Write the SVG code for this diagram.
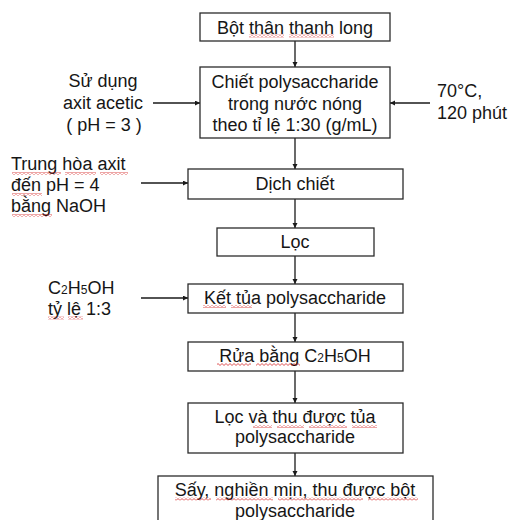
<svg xmlns="http://www.w3.org/2000/svg" width="509" height="520" viewBox="0 0 509 520">
  <style>
    .box { fill: #ffffff; stroke: #2b2b2b; stroke-width: 1.3; }
    .t { font-family: "Liberation Sans", Arial, sans-serif; font-size: 18px; fill: #161616; }
    .c { text-anchor: middle; }
    .sub { font-size: 12px; }
    .edge { stroke: #1a1a1a; stroke-width: 1.3; fill: none; marker-end: url(#head); }
    .sq { fill: url(#wave); }
  </style>
  <defs>
    <marker id="head" markerUnits="userSpaceOnUse" markerWidth="6" markerHeight="6" refX="5" refY="2.5" orient="auto">
      <path d="M0,0 L5,2.5 L0,5 z" fill="#1a1a1a"/>
    </marker>
    <!-- red spell-check wave -->
    <pattern id="wave" patternUnits="userSpaceOnUse" width="4" height="3">
      <path d="M-1,1.5 L0,2.5 L2,0.5 L4,2.5 L5,1.5" stroke="#d42020" stroke-width="0.8" fill="none"/>
    </pattern>
  </defs>

  <rect width="509" height="520" fill="#ffffff"/>

  <!-- connectors -->
  <g id="connectors">
    <line class="edge" x1="295" y1="41" x2="295" y2="67"/>
    <line class="edge" x1="295" y1="138" x2="295" y2="169"/>
    <line class="edge" x1="295" y1="199" x2="295" y2="228"/>
    <line class="edge" x1="295" y1="256" x2="295" y2="284"/>
    <line class="edge" x1="295" y1="313" x2="295" y2="342"/>
    <line class="edge" x1="295" y1="371" x2="295" y2="403"/>
    <line class="edge" x1="295" y1="453" x2="295" y2="476"/>
    <line class="edge" x1="153" y1="103" x2="200" y2="103"/>
    <line class="edge" x1="430" y1="103" x2="390" y2="103"/>
    <line class="edge" x1="141" y1="183" x2="188" y2="183"/>
    <line class="edge" x1="141" y1="298" x2="188" y2="298"/>
  </g>

  <!-- process steps -->
  <g id="n1">
    <rect class="box" x="200" y="13" width="190" height="28"/>
    <text class="t c" x="295" y="33.5">Bột thân thanh long</text>
    <rect class="sq" x="249" y="34.5" width="35" height="3"/>
    <rect class="sq" x="289" y="34.5" width="45" height="3"/>
  </g>
  <g id="n2">
    <rect class="box" x="200" y="67" width="190" height="71"/>
    <text class="t c" x="295" y="88">Chiết polysaccharide</text>
    <text class="t c" x="295" y="110">trong nước nóng</text>
    <text class="t c" x="295" y="131">theo tỉ lệ 1:30 (g/mL)</text>
  </g>
  <g id="n3">
    <rect class="box" x="188" y="169" width="215" height="30"/>
    <text class="t c" x="295" y="189.5">Dịch chiết</text>
  </g>
  <g id="n4">
    <rect class="box" x="217" y="228" width="157" height="28"/>
    <text class="t c" x="295" y="248">Lọc</text>
  </g>
  <g id="n5">
    <rect class="box" x="188" y="284" width="215" height="29"/>
    <text class="t c" x="295" y="304">Kết tủa polysaccharide</text>
    <rect class="sq" x="203" y="305" width="23" height="3"/>
    <rect class="sq" x="231" y="305" width="21" height="3"/>
  </g>
  <g id="n6">
    <rect class="box" x="188" y="342" width="215" height="29"/>
    <text class="t c" x="295" y="362">Rửa bằng <tspan>C</tspan><tspan class="sub">2</tspan><tspan>H</tspan><tspan class="sub">5</tspan><tspan>OH</tspan></text>
    <rect class="sq" x="217" y="363" width="34" height="3"/>
    <rect class="sq" x="256" y="363" width="44" height="3"/>
  </g>
  <g id="n7">
    <rect class="box" x="188" y="403" width="215" height="50"/>
    <text class="t c" x="295" y="423">Lọc và thu được tủa</text>
    <text class="t c" x="295" y="443">polysaccharide</text>
    <rect class="sq" x="253" y="425" width="19" height="3"/>
    <rect class="sq" x="277" y="425" width="27" height="3"/>
    <rect class="sq" x="309" y="425" width="38" height="3"/>
    <rect class="sq" x="352" y="425" width="25" height="3"/>
  </g>
  <g id="n8">
    <rect class="box" x="158" y="476" width="275" height="60"/>
    <text class="t c" x="295" y="496">Sấy, nghiền mịn, thu được bột</text>
    <text class="t c" x="295" y="517">polysaccharide</text>
    <rect class="sq" x="175" y="497.5" width="36" height="3"/>
    <rect class="sq" x="216" y="497.5" width="57" height="3"/>
    <rect class="sq" x="278" y="497.5" width="85" height="3"/>
    <rect class="sq" x="368" y="497.5" width="50" height="3"/>
  </g>

  <!-- side inputs -->
  <g id="in-acid">
    <text class="t c" x="103" y="87">Sử dụng</text>
    <text class="t c" x="103" y="109">axit acetic</text>
    <text class="t c" x="104" y="131">( pH = 3 )</text>
  </g>
  <g id="in-heat">
    <text class="t" x="437" y="97">70°C,</text>
    <text class="t" x="437" y="119">120 phút</text>
  </g>
  <g id="in-neutralise">
    <text class="t" x="11" y="170">Trung hòa axit</text>
    <text class="t" x="11" y="191">đến pH = 4</text>
    <text class="t" x="11" y="212">bằng NaOH</text>
    <rect class="sq" x="12" y="172" width="49" height="3"/>
    <rect class="sq" x="65" y="172" width="31" height="3"/>
    <rect class="sq" x="100" y="172" width="28" height="3"/>
    <rect class="sq" x="12" y="193" width="30" height="3"/>
    <rect class="sq" x="12" y="214" width="40" height="3"/>
  </g>
  <g id="in-ethanol">
    <text class="t" x="48" y="294">C<tspan class="sub">2</tspan>H<tspan class="sub">5</tspan>OH</text>
    <text class="t" x="48" y="315">tỷ lệ 1:3</text>
    <rect class="sq" x="48" y="316.5" width="16" height="3"/>
    <rect class="sq" x="68" y="316.5" width="15" height="3"/>
  </g>
</svg>
